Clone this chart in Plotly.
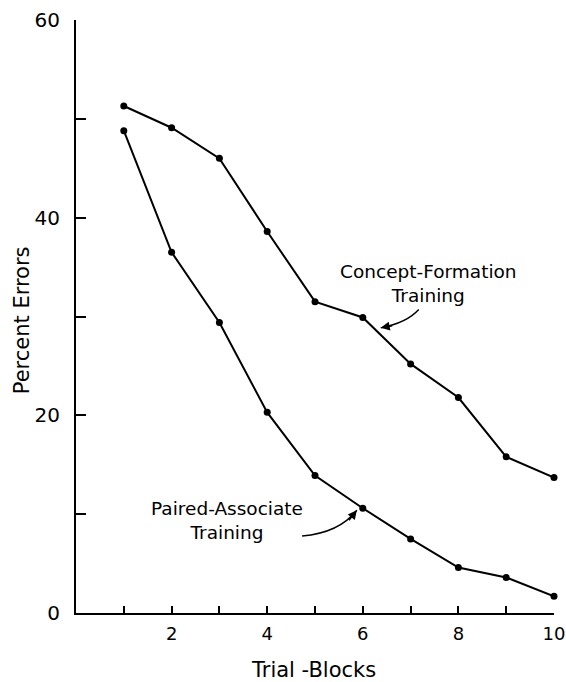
import plotly.graph_objects as go

trial_blocks = [1, 2, 3, 4, 5, 6, 7, 8, 9, 10]
concept_formation = [51.3, 49.1, 46.0, 38.6, 31.5, 29.9, 25.2, 21.8, 15.8, 13.7]
paired_associate = [48.8, 36.5, 29.4, 20.3, 13.9, 10.6, 7.5, 4.6, 3.6, 1.7]

y_tick_vals = [0, 10, 20, 30, 40, 50, 60]
y_tick_text = ["0", "", "20", "", "40", "", "60"]
x_tick_vals = [1, 2, 3, 4, 5, 6, 7, 8, 9, 10]
x_tick_text = ["", "2", "", "4", "", "6", "", "8", "", "10"]

FONT = "DejaVu Sans"

fig = go.Figure()
for ys in (concept_formation, paired_associate):
    fig.add_trace(go.Scatter(
        x=trial_blocks, y=ys, mode="lines+markers",
        line=dict(color="black", width=2),
        marker=dict(color="black", size=7),
        showlegend=False, cliponaxis=False,
    ))

# curved arrows
fig.add_shape(type="path", xref="x", yref="y",
              path="M 7.17 30.7 Q 6.92 29.35 6.375 28.85",
              line=dict(color="black", width=1.5))
fig.add_shape(type="path", xref="x", yref="y",
              path="M 4.73 7.8 Q 5.5 8.1 5.875 10.4",
              line=dict(color="black", width=1.5))

fig.add_annotation(x=6.375, y=28.85, xref="x", yref="y", text="",
                   showarrow=True, ax=13, ay=-2.5, arrowhead=2,
                   arrowsize=1.2, arrowwidth=1.5, arrowcolor="black")
fig.add_annotation(x=5.875, y=10.4, xref="x", yref="y", text="",
                   showarrow=True, ax=-9, ay=11.5, arrowhead=2,
                   arrowsize=1.2, arrowwidth=1.5, arrowcolor="black")

fig.add_annotation(x=7.375, y=33.3, xref="x", yref="y",
                   text="Concept-Formation<br>Training", showarrow=False,
                   font=dict(family=FONT, size=18.5, color="black"))
fig.add_annotation(x=3.15, y=9.4, xref="x", yref="y",
                   text="Paired-Associate<br>Training", showarrow=False,
                   font=dict(family=FONT, size=18.5, color="black"))

# axis titles
fig.add_annotation(x=0.496, y=-0.096, xref="paper", yref="paper",
                   xanchor="center", yanchor="middle",
                   text="Trial -Blocks", showarrow=False,
                   font=dict(family=FONT, size=21, color="black"))
fig.add_annotation(x=-0.1125, y=0.494, xref="paper", yref="paper",
                   xanchor="center", yanchor="middle",
                   text="Percent Errors", showarrow=False, textangle=-90,
                   font=dict(family=FONT, size=21, color="black"))

fig.update_xaxes(range=[0, 10.0], tickvals=x_tick_vals, ticktext=x_tick_text,
                 ticks="inside", ticklen=7, tickwidth=1.5, tickcolor="black",
                 showline=True, linecolor="black", linewidth=2,
                 showgrid=False, zeroline=False, automargin=False,
                 ticklabelstandoff=3, ticklabeloverflow="allow",
                 tickfont=dict(family=FONT, size=18, color="black"))
fig.update_yaxes(range=[0, 60], tickvals=y_tick_vals, ticktext=y_tick_text,
                 ticks="inside", ticklen=10, tickwidth=1.5, tickcolor="black",
                 showline=True, linecolor="black", linewidth=2,
                 showgrid=False, zeroline=False, automargin=False,
                 ticklabelstandoff=10,
                 tickfont=dict(family=FONT, size=20, color="black"))

fig.update_layout(width=566, height=682,
                  margin=dict(l=76, r=12, t=20, b=69),
                  paper_bgcolor="white", plot_bgcolor="white",
                  font=dict(family=FONT, color="black"))

fig.write_html(
    "out.html",
    config={"displayModeBar": False},
    post_script="document.body.style.margin='0';"
                "document.body.style.overflow='hidden';"
                "document.documentElement.style.overflow='hidden';",
)
